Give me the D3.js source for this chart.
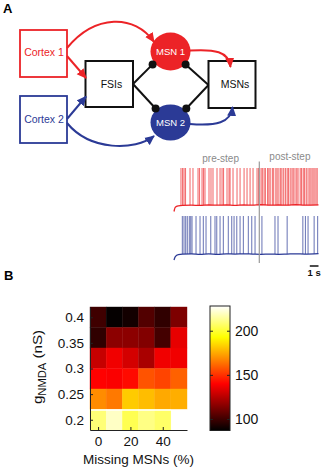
<!DOCTYPE html>
<html>
<head>
<meta charset="utf-8">
<script src="https://cdn.jsdelivr.net/npm/d3@7"></script>
<style>
  body { margin: 0; background: #fff; }
  text { font-family: "Liberation Sans", Arial, sans-serif; }
</style>
</head>
<body>
<script>
const RED = '#ec2327', BLUE = '#2b3a96';

// ---- panel A: spike times (s)
const redSpikes = [0.8, 0.98, 1.15, 1.32, 1.84, 2.18, 2.76, 2.93, 3.22, 3.39, 3.56, 4.02, 4.25, 4.48, 4.94,
  5.29, 5.52, 5.69, 6.09, 6.32, 6.44, 6.78, 7.24, 7.59, 8.05, 8.39, 8.74, 9.08, 9.54, 9.71,
  10.0, 10.15, 10.35, 10.5, 10.75, 10.9, 11.05, 11.3, 11.45, 11.7, 11.85, 12.05, 12.25, 12.4, 12.6,
  12.8, 13.0, 13.15, 13.35, 13.55, 13.7, 13.9, 14.1, 14.25, 14.5, 14.65, 14.85, 15.0, 15.2, 15.4,
  15.6, 15.75, 15.95, 16.1, 16.3, 16.45]
const blueSpikes = [0.96, 1.15, 1.34, 1.53, 1.76, 1.92, 2.07, 2.53, 2.99, 3.37, 3.68, 4.22, 4.71, 4.91,
  5.29, 5.67, 6.24, 6.63, 6.9, 7.21, 7.59, 7.97, 8.54, 8.93, 9.31,
  10.1, 11.6, 11.95, 13.0, 14.8, 15.1, 15.4, 16.1, 16.5]
// membrane potential between spikes (mV)
const redBaseline = [[0, -70], [0.15, -61], [0.5, -58.5], [1, -57.5], [2, -57], [3, -57.5], [4, -56.5], [5, -57],
  [6, -56.5], [7, -57.5], [8, -56.5], [9, -57], [10, -56], [11, -57], [12, -56.5], [13, -57], [14, -56], [15, -57], [16.6, -56.5]]
const blueBaseline = [[0, -69], [0.15, -62], [0.5, -58], [1, -57], [2, -56.5], [3, -57.5], [4, -56.5], [5, -57.5],
  [6, -56.5], [7, -57], [8, -56.5], [9, -57], [10, -57.5], [11, -57], [12, -57.5], [13, -57], [14, -56.5], [15, -57], [16.6, -56]]
const spikePeak = 20
const stepTime = 9.8
const traceEnd = 16.6

// ---- panel B: firing rate heatmap
const missing = [0, 10, 20, 30, 40, 50]
const gNmda = [0.4, 0.36, 0.32, 0.28, 0.24, 0.2]
const rate = [
  [100, 88, 91, 104, 97, 113],
  [97, 116, 116, 114, 101, 135],
  [128, 137, 131, 122, 137, 137],
  [140, 139, 142, 157, 154, 160],
  [169, 165, 182, 179, 175, 176],
  [209, 220, 204, 211, 207, null]
]
const xTicks = [0, 20, 40]
const yTicks = [0.2, 0.25, 0.3, 0.35, 0.4]
const cbTicks = [100, 150, 200]
const cbRange = [87, 228]

const svg = d3.select('body').append('svg')
  .attr('width', 327).attr('height', 470)

const defs = svg.append('defs')
const marker = (id, col) => defs.append('marker')
  .attr('id', id).attr('markerUnits', 'userSpaceOnUse')
  .attr('viewBox', '0 -5 10 10').attr('refX', 9).attr('refY', 0)
  .attr('markerWidth', 10).attr('markerHeight', 10).attr('orient', 'auto')
  .append('path').attr('d', 'M0,-4.5L10,0L0,4.5Z').attr('fill', col)
marker('arR', RED)
marker('arB', BLUE)

svg.append('text').attr('x', 3).attr('y', 13).attr('font-size', 13).attr('font-weight', 'bold').text('A')
svg.append('text').attr('x', 4).attr('y', 280).attr('font-size', 13).attr('font-weight', 'bold').text('B')

// ---- circuit diagram
const boxes = [
  { x: 20, y: 30, w: 47, h: 47, col: RED, label: 'Cortex 1', tx: 44, ty: 55.5, sw: 1.8 },
  { x: 20, y: 96, w: 47, h: 47, col: BLUE, label: 'Cortex 2', tx: 44, ty: 123, sw: 1.8 },
  { x: 85.5, y: 61, w: 47.5, h: 46, col: '#111', label: 'FSIs', tx: 111.5, ty: 88, sw: 2 },
  { x: 208.5, y: 61, w: 47, h: 47, col: '#111', label: 'MSNs', tx: 235, ty: 88, sw: 2 }
]
const circ = svg.append('g')

// inhibitory links (black lines ending in dots)
const links = [
  [[133, 84], [152.6, 64.4]], [[133, 84], [155.6, 108.5]],
  [[208.5, 85], [185.6, 64.4]], [[208.5, 85], [186.3, 108.5]]
]
circ.selectAll('line.inh').data(links).join('line')
  .attr('x1', d => d[0][0]).attr('y1', d => d[0][1])
  .attr('x2', d => d[1][0]).attr('y2', d => d[1][1])
  .attr('stroke', '#111').attr('stroke-width', 2)

const cells = [
  { cx: 170.5, cy: 51.5, ry: 19, col: RED, label: 'MSN 1', ty: 55 },
  { cx: 170.5, cy: 122.5, ry: 18, col: BLUE, label: 'MSN 2', ty: 126 }
]
circ.selectAll('ellipse').data(cells).join('ellipse')
  .attr('cx', d => d.cx).attr('cy', d => d.cy).attr('rx', 20).attr('ry', d => d.ry)
  .attr('fill', d => d.col)
circ.selectAll('text.cell').data(cells).join('text')
  .attr('x', d => d.cx).attr('y', d => d.ty)
  .attr('text-anchor', 'middle').attr('font-size', 9.5).attr('fill', '#fff')
  .text(d => d.label)

circ.selectAll('circle.dot').data(links).join('circle')
  .attr('cx', d => d[1][0]).attr('cy', d => d[1][1]).attr('r', 4).attr('fill', '#111')

circ.selectAll('rect').data(boxes).join('rect')
  .attr('x', d => d.x).attr('y', d => d.y).attr('width', d => d.w).attr('height', d => d.h)
  .attr('fill', 'none').attr('stroke', d => d.col).attr('stroke-width', d => d.sw)
circ.selectAll('text.box').data(boxes).join('text')
  .attr('x', d => d.tx).attr('y', d => d.ty)
  .attr('text-anchor', 'middle').attr('font-size', 10.5).attr('fill', d => d.col)
  .text(d => d.label)

// excitatory projections
const arrows = [
  { d: 'M67,48 C95,14 135,14 154,42', m: 'arR', col: RED },
  { d: 'M67,56 L86,78', m: 'arR', col: RED },
  { d: 'M190,50.5 C214,49 229,51 230.5,67', m: 'arR', col: RED },
  { d: 'M67,119 L86,96.5', m: 'arB', col: BLUE },
  { d: 'M67,123 C90,151 135,151 154,136', m: 'arB', col: BLUE },
  { d: 'M190,124 C216,126 231,123 232.5,107', m: 'arB', col: BLUE }
]
circ.selectAll('path.arr').data(arrows).join('path')
  .attr('d', d => d.d).attr('fill', 'none').attr('stroke', d => d.col)
  .attr('stroke-width', 2).attr('marker-end', d => `url(#${d.m})`)

// ---- voltage traces
const xt = d3.scaleLinear().domain([0, traceEnd]).range([174, 318.5])
const traces = [
  { base: redBaseline, spikes: redSpikes, col: RED, y: d3.scaleLinear().domain([-70, spikePeak]).range([211.5, 168]) },
  { base: blueBaseline, spikes: blueSpikes, col: BLUE, y: d3.scaleLinear().domain([-70, spikePeak]).range([260.5, 216]) }
]
traces.forEach(tr => {
  const g = svg.append('g')
  g.selectAll('line').data(tr.spikes).join('line')
    .attr('x1', d => xt(d)).attr('x2', d => xt(d))
    .attr('y1', tr.y(-57)).attr('y2', tr.y(spikePeak))
    .attr('stroke', tr.col).attr('stroke-width', 1.1).attr('stroke-opacity', 0.65)
  g.append('path').datum(tr.base)
    .attr('d', d3.line().x(d => xt(d[0])).y(d => tr.y(d[1])).curve(d3.curveMonotoneX))
    .attr('fill', 'none').attr('stroke', tr.col).attr('stroke-width', 1.3)
})

svg.append('line')
  .attr('x1', xt(stepTime)).attr('x2', xt(stepTime)).attr('y1', 161.5).attr('y2', 263)
  .attr('stroke', '#9a9a9a').attr('stroke-width', 1.2)
svg.append('text').attr('x', xt(stepTime / 2) + 4).attr('y', 162).attr('text-anchor', 'middle')
  .attr('font-size', 10).attr('fill', '#8a8a8a').text('pre-step')
svg.append('text').attr('x', xt((stepTime + traceEnd) / 2) + 1).attr('y', 160).attr('text-anchor', 'middle')
  .attr('font-size', 10).attr('fill', '#8a8a8a').text('post-step')
svg.append('line').attr('x1', xt(traceEnd - 1)).attr('x2', xt(traceEnd)).attr('y1', 266).attr('y2', 266)
  .attr('stroke', '#111').attr('stroke-width', 1.5)
svg.append('text').attr('x', xt(traceEnd - 0.5)).attr('y', 275.5).attr('text-anchor', 'middle')
  .attr('font-size', 9.5).attr('font-weight', 'bold').attr('fill', '#111').text('1 s')

// ---- heatmap
const hot = t => {
  t = Math.max(0, Math.min(1, t))
  const r = Math.min(1, t / 0.375), g = Math.max(0, Math.min(1, (t - 0.375) / 0.375)), b = Math.max(0, (t - 0.75) / 0.25)
  return d3.rgb(r * 255, g * 255, b * 255)
}
const cnorm = d3.scaleLinear().domain(cbRange).range([0, 1])
const color = v => hot(cnorm(v))

const x = d3.scaleLinear().domain([-5, 55]).range([90, 187])
const y = d3.scaleLinear().domain([0.18, 0.42]).range([430, 307])
const cellData = []
rate.forEach((row, i) => row.forEach((v, j) => { if (v != null) cellData.push({ g: gNmda[i], m: missing[j], v }) }))

const hm = svg.append('g')
hm.selectAll('rect').data(cellData).join('rect')
  .attr('x', d => x(d.m - 5)).attr('width', x(5) - x(-5))
  .attr('y', d => y(d.g + 0.02)).attr('height', y(0) - y(0.04))
  .attr('fill', d => color(d.v)).attr('stroke', d => color(d.v)).attr('stroke-width', 0.4)
hm.append('line').attr('x1', x(-5)).attr('x2', x(55)).attr('y1', y(0.22) + 0.5).attr('y2', y(0.22) + 0.5)
  .attr('stroke', '#fff').attr('stroke-width', 1.6)

const yAxis = svg.append('g').attr('transform', `translate(${x(-5)},0)`)
  .call(d3.axisLeft(y).tickValues(yTicks).tickFormat(d => String(d)).tickSize(-3).tickSizeOuter(0).tickPadding(6))
const xAxis = svg.append('g').attr('transform', `translate(0,${y(0.18)})`)
  .call(d3.axisBottom(x).tickValues(xTicks).tickSize(-3).tickSizeOuter(0).tickPadding(6))
;[yAxis, xAxis].forEach(a => {
  a.selectAll('text').attr('font-size', 13.5).attr('fill', '#111').attr('font-family', '"Liberation Sans", Arial, sans-serif')
  a.selectAll('line,path').attr('stroke', '#222')
})

svg.append('text').attr('x', x(25)).attr('y', 464).attr('text-anchor', 'middle')
  .attr('font-size', 13.5).attr('fill', '#111').text('Missing MSNs (%)')
const yl = svg.append('text').attr('transform', `translate(42,367) rotate(-90) scale(1.12,1)`)
  .attr('text-anchor', 'middle').attr('font-size', 13.5).attr('fill', '#111')
yl.append('tspan').text('g')
yl.append('tspan').attr('font-size', 10).attr('dy', 4).text('NMDA')
yl.append('tspan').attr('dy', -4).text(' (nS)')

// ---- colour bar
const cb = d3.scaleLinear().domain(cbRange).range([430.5, 306])
const grad = defs.append('linearGradient').attr('id', 'cbg')
  .attr('x1', 0).attr('x2', 0).attr('y1', 1).attr('y2', 0)
grad.selectAll('stop').data(d3.range(0, 1.0001, 0.0625)).join('stop')
  .attr('offset', d => d).attr('stop-color', d => hot(d))
svg.append('rect').attr('x', 210).attr('y', cb(cbRange[1])).attr('width', 20)
  .attr('height', cb(cbRange[0]) - cb(cbRange[1]))
  .attr('fill', 'url(#cbg)').attr('stroke', '#222').attr('stroke-width', 1)
const cbAxis = svg.append('g').attr('transform', 'translate(230,0)')
  .call(d3.axisRight(cb).tickValues(cbTicks).tickSize(-3).tickSizeOuter(0).tickPadding(5))
cbAxis.select('.domain').remove()
cbAxis.selectAll('text').attr('font-size', 14).attr('fill', '#111').attr('font-family', '"Liberation Sans", Arial, sans-serif')
cbAxis.selectAll('line').attr('stroke', '#222')
svg.append('g').attr('transform', 'translate(210,0)')
  .call(d3.axisLeft(cb).tickValues(cbTicks).tickSize(-3).tickFormat(''))
  .call(g => g.select('.domain').remove())
  .selectAll('line').attr('stroke', '#222')
</script>
</body>
</html>
